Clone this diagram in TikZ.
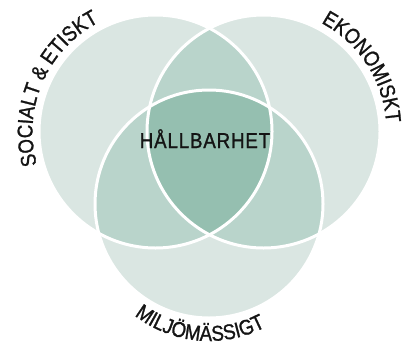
\documentclass[tikz,border=0pt]{standalone}
\usepackage{fontspec}
\setmainfont{Liberation Sans}
\newfontfamily\arcfont[FakeStretch=0.87,FakeBold=1.2]{Liberation Sans}
\newfontfamily\midfont[FakeStretch=0.87,FakeBold=1.2,LetterSpace=4]{Liberation Sans}
\usetikzlibrary{calc,decorations.text}
\definecolor{vlight}{RGB}{218,230,226}
\definecolor{vmid}{RGB}{185,212,203}
\definecolor{vdark}{RGB}{149,191,176}
\definecolor{vtext}{RGB}{20,20,20}
\tikzset{
  ring/.style={draw=white, line width=3pt},
  arclabel/.style={decorate, decoration={text along path, text align=center, text color=vtext}},
}
\begin{document}
\begin{tikzpicture}[x=1pt,y=1pt]
\useasboundingbox (0,0) rectangle (411,349);
\coordinate (L) at (155.5,217.5);
\coordinate (R) at (263.5,217.5);
\coordinate (B) at (209,145);
\coordinate (T) at (209,129);
\def\rr{116.5}
\def\rb{114}
% single regions
\fill[vlight] (L) circle[radius=\rr];
\fill[vlight] (R) circle[radius=\rr];
\fill[vlight] (B) circle[radius=\rb];
% pairwise
\begin{scope}
  \clip (L) circle[radius=\rr];
  \fill[vmid] (R) circle[radius=\rr];
  \fill[vmid] (B) circle[radius=\rb];
\end{scope}
\begin{scope}
  \clip (R) circle[radius=\rr];
  \fill[vmid] (B) circle[radius=\rb];
\end{scope}
% triple
\begin{scope}
  \clip (L) circle[radius=\rr];
  \clip (R) circle[radius=\rr];
  \fill[vdark] (B) circle[radius=\rb];
\end{scope}
% outlines
\draw[ring] (L) circle[radius=\rr];
\draw[ring] (R) circle[radius=\rr];
\draw[ring] (B) circle[radius=\rb];
% centre text
\node[anchor=base, text=vtext, font=\midfont\fontsize{21.5}{22}\selectfont, inner sep=0pt] (hb) at (205,201) {HÅLLBARHET};
% curved labels
\path[arclabel, decoration={text={|\arcfont\fontsize{21.5}{22}\selectfont|SOCIALT {\&} ETISKT}}]
  ($(L)+(206.5:123)$) arc[start angle=206.5, end angle=106.5, radius=123];
\path[arclabel, decoration={text={|\arcfont\fontsize{21.5}{22}\selectfont|EKONOMISKT}}]
  ($(R)+(83:123)$) arc[start angle=83, end angle=-17, radius=123];
\path[arclabel, decoration={text={|\arcfont\fontsize{21.5}{22}\selectfont|MILJÖMÄSSIGT}}]
  ($(T)+(215:121)$) arc[start angle=215, end angle=315, radius=121];
\end{tikzpicture}
\end{document}
